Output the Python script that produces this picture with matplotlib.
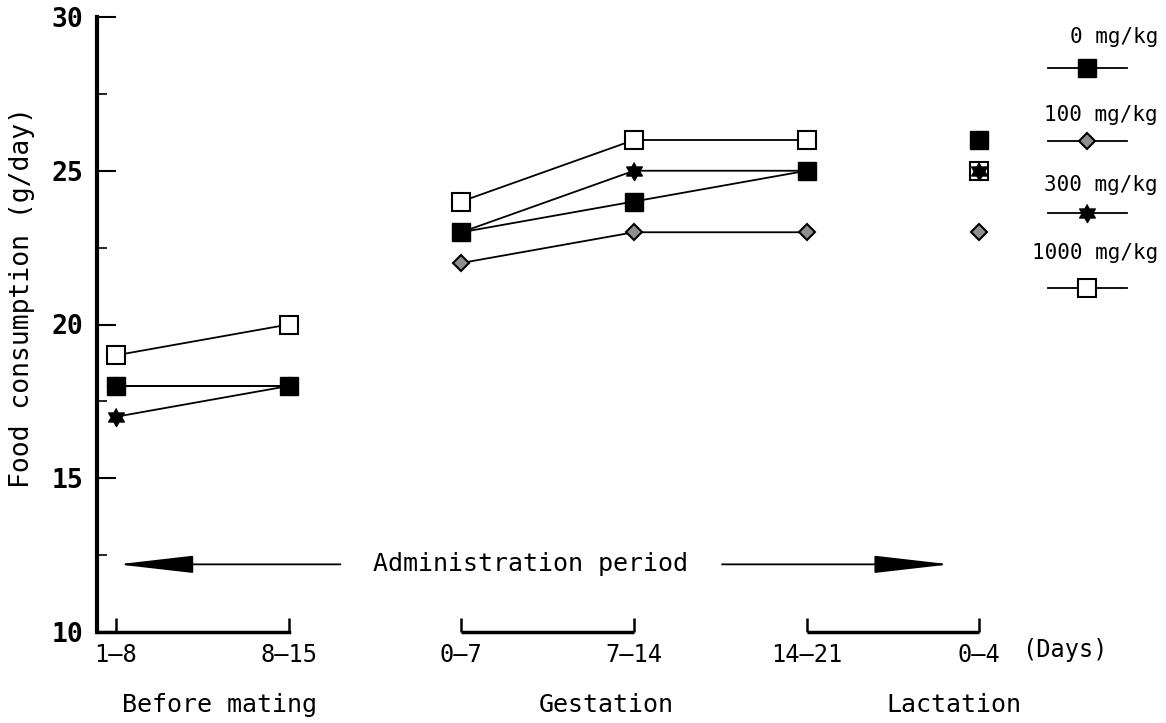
import matplotlib
matplotlib.use('Agg')
import matplotlib.pyplot as plt
from matplotlib.lines import Line2D
import numpy as np

# ---- data ----
periods = ['1–8', '8–15', '0–7', '7–14', '14–21', '0–4']
groups = ['0 mg/kg', '100 mg/kg', '300 mg/kg', '1000 mg/kg']
dose0 = [18, 18, 23, 24, 25, 26]
dose100 = [18, 18, 22, 23, 23, 23]
dose300 = [17, 18, 23, 25, 25, 25]
dose1000 = [19, 20, 24, 26, 26, 25]
segments = [[0, 1], [2, 3, 4], [5]]
phases = ['Before mating', 'Gestation', 'Lactation']
phase_pos = [0.60, 2.84, 4.85]

FONT = 'DejaVu Sans Mono'
plt.rcParams['font.family'] = [FONT]

# hexagram marker shape
ang = np.deg2rad(90 + 30 * np.arange(12))
rad = np.where(np.arange(12) % 2 == 0, 1.0, 0.577)
hexagram = list(zip(rad * np.cos(ang), rad * np.sin(ang)))

W, H = 1166, 723
fig = plt.figure(figsize=(11.66, 7.23), dpi=100)
ax = fig.add_axes([97/W, 1-632/H, 903/W, 615/H])
x = list(range(len(periods)))
ax.set_xlim(-0.11, 5.12)
ax.set_ylim(10, 30)

styles = {
    '0 mg/kg': dict(marker='s', mfc='black', mec='black', ms=12.5),
    '100 mg/kg': dict(marker='D', mfc='#8f8f8f', mec='black', ms=8, mew=1.5),
    '300 mg/kg': dict(marker=hexagram, mfc='black', mec='black', ms=13),
    '1000 mg/kg': dict(marker='s', mfc='white', mec='black', ms=12.5, mew=1.5),
}
series = {'0 mg/kg': dose0, '100 mg/kg': dose100, '300 mg/kg': dose300, '1000 mg/kg': dose1000}
order = ['100 mg/kg', '1000 mg/kg', '300 mg/kg', '0 mg/kg']
for z, g in enumerate(order):
    vals = series[g]
    for seg in segments:
        ax.plot([x[i] for i in seg], [vals[i] for i in seg], color='black', lw=1.3,
                zorder=3 + z, clip_on=False, **styles[g])

# axes styling
for s in ['top', 'right']:
    ax.spines[s].set_visible(False)
ax.spines['left'].set_linewidth(3)
ax.spines['bottom'].set_linewidth(2.5)
ax.spines['bottom'].set_bounds(-0.11, 1)
ax.set_yticks([10, 15, 20, 25, 30])
ax.set_yticks([12.5, 17.5, 22.5, 27.5], minor=True)
ax.tick_params(axis='y', which='major', direction='in', length=14, width=1.5, pad=10,
               labelsize=19)
ax.tick_params(axis='y', which='minor', direction='in', length=7, width=1.2)
for lab in ax.get_yticklabels():
    lab.set_fontweight('bold')
ax.set_xticks(x)
ax.set_xticklabels(periods)
ax.tick_params(axis='x', direction='in', length=10, width=1.8, pad=8, labelsize=17)

# brackets for gestation / lactation
for a, b in [(2, 3), (4, 5)]:
    ax.plot([a, b], [10, 10], color='black', lw=2.5, clip_on=False, solid_capstyle='butt')

fig.text(1065/W, 1-650/H, '(Days)', fontsize=17, ha='center', va='center')

for p, pos in zip(phases, phase_pos):
    xf = ax.transData.transform((pos, 10))[0] / fig.bbox.width
    fig.text(xf, 1-705/H, p, fontsize=18, ha='center', va='center')

# administration period arrow
ax.text(2.4, 12.2, 'Administration period', fontsize=18, ha='center', va='center')
ap = dict(arrowstyle='-|>,head_length=4.8,head_width=0.55', color='black', lw=1.3,
          shrinkA=0, shrinkB=0)
ax.annotate('', xy=(0.01, 12.2), xytext=(1.30, 12.2), arrowprops=ap)
ax.annotate('', xy=(4.83, 12.2), xytext=(3.51, 12.2), arrowprops=ap)

# y label
fig.text(22/W, 1-297/H, 'Food consumption (g/day)', rotation=90, fontsize=19,
         ha='center', va='center')

# legend
leg_text_y = [37, 115, 185, 253]
leg_line_y = [68, 141, 213, 288]
for g, ty, ly in zip(groups, leg_text_y, leg_line_y):
    fig.text(1158/W, 1-ty/H, g, fontsize=15, ha='right', va='center')
    st = dict(styles[g])
    fig.add_artist(Line2D([1048/W, 1127/W], [1-ly/H, 1-ly/H], color='black', lw=1.3,
                          transform=fig.transFigure))
    fig.add_artist(Line2D([1087/W], [1-ly/H], color='black', lw=0,
                          transform=fig.transFigure, **st))

fig.savefig('out.png', dpi=100)
